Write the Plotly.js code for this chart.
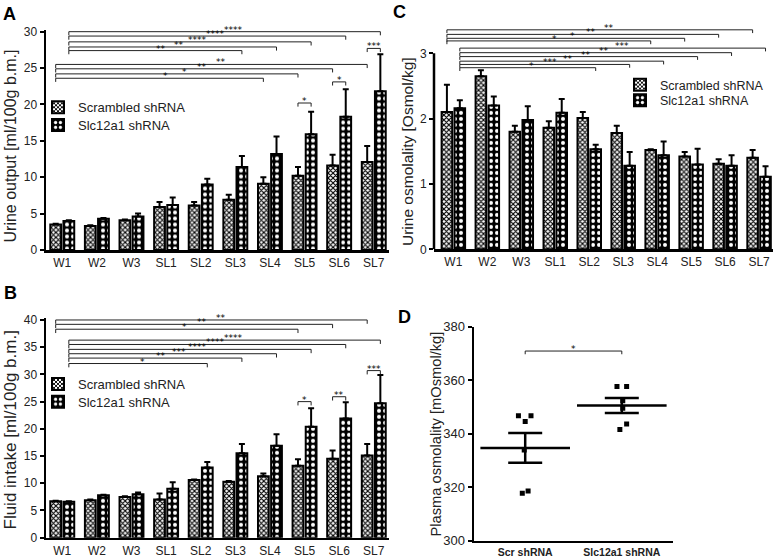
<!DOCTYPE html>
<html><head><meta charset="utf-8">
<script src="https://cdn.plot.ly/plotly-3.0.1.min.js"></script>
<style>html,body{margin:0;padding:0;background:#fff}#chart{width:777px;height:559px}</style>
</head><body><div id="chart"></div>
<script>
// ---------- data ----------
const categories = ['W1','W2','W3','SL1','SL2','SL3','SL4','SL5','SL6','SL7'];
const seriesNames = ['Scrambled shRNA','Slc12a1 shRNA'];

// A: urine output [ml/100g b.m.]
const urineScr    = [3.5,3.3,4.1,5.9,6.1,6.9,9.1,10.2,11.6,12.1];
const urineScrErr = [0.1,0.1,0.1,0.7,0.5,0.7,0.9,1.2,1.5,2.2];
const urineSlc    = [4.0,4.3,4.6,6.2,9.0,11.4,13.2,15.9,18.3,21.8];
const urineSlcErr = [0.1,0.1,0.4,1.0,0.8,1.5,2.4,3.1,3.8,5.1];
const urineTicks  = [0,5,10,15,20,25,30];

// B: fluid intake [ml/100g b.m.]
const fluidScr    = [6.7,6.9,7.5,7.0,10.6,10.3,11.3,13.2,14.5,15.1];
const fluidScrErr = [0.1,0.1,0.1,1.1,0.1,0.1,0.5,1.2,1.5,2.1];
const fluidSlc    = [6.6,7.8,8.0,9.0,12.9,15.5,16.9,20.4,21.9,24.7];
const fluidSlcErr = [0.1,0.1,0.3,1.2,1.0,1.7,2.1,3.4,3.0,5.2];
const fluidTicks  = [0,5,10,15,20,25,30,35,40];

// C: urine osmolality [Osmol/kg]
const osmoScr    = [2.10,2.65,1.80,1.86,2.01,1.78,1.52,1.42,1.31,1.40];
const osmoScrErr = [0.42,0.09,0.09,0.10,0.09,0.11,0.01,0.07,0.07,0.12];
const osmoSlc    = [2.16,2.20,1.98,2.09,1.53,1.28,1.44,1.30,1.28,1.11];
const osmoSlcErr = [0.12,0.14,0.21,0.21,0.07,0.21,0.21,0.24,0.16,0.16];
const osmoTicks  = [0,1,2,3];

// D: plasma osmolality [mOsmol/kg]
const groups      = ['Scr shRNA','Slc12a1 shRNA'];
const plasmaScr   = [346.7,346.7,344.6,333.9,317.7,318.6];
const plasmaScrJitter = [-0.07,0.06,0.0,-0.01,-0.03,0.03];
const plasmaSlc   = [357.6,357.6,352.3,349.5,343.6,341.6];
const plasmaSlcJitter = [-0.05,0.05,0.01,0.01,0.05,-0.02];
const plasmaMean  = [334.7,350.5];
const plasmaSem   = [5.6,2.8];
const plasmaTicks = [300,320,340,360,380];

// significance brackets: [fromCategory, fromSeries, toCategory, toSeries, level, label]
const bracketsA = [
  ['W1',1,'SL7',1,30.0,'****'],['W1',1,'SL6',1,29.4,'****'],['W1',1,'SL5',1,28.6,'****'],
  ['W1',1,'SL4',1,27.9,'**'],['W1',1,'SL3',1,27.4,'**'],
  ['W1',0,'SL7',0,25.5,'**'],['W1',0,'SL6',0,24.9,'**'],['W1',0,'SL5',0,24.2,'*'],['W1',0,'SL4',0,23.6,'*'],
  ['SL5',0,'SL5',1,20.2,'*'],['SL6',0,'SL6',1,23.1,'*'],['SL7',0,'SL7',1,27.7,'***']
];
const bracketsB = [
  ['W1',0,'SL7',0,40.0,'**'],['W1',0,'SL6',0,39.2,'**'],['W1',0,'SL5',0,38.3,'*'],
  ['W1',1,'SL7',1,36.3,'****'],['W1',1,'SL6',1,35.5,'****'],['W1',1,'SL5',1,34.6,'****'],
  ['W1',1,'SL4',1,33.8,'***'],['W1',1,'SL3',1,33.0,'**'],['W1',1,'SL2',1,32.0,'*'],
  ['SL5',0,'SL5',1,25.0,'*'],['SL6',0,'SL6',1,25.9,'**'],['SL7',0,'SL7',1,30.7,'***']
];
const bracketsC = [
  ['W1',0,'SL7',0,3.36,'**'],['W1',0,'SL6',0,3.29,'**'],['W1',0,'SL5',0,3.23,'*'],['W1',0,'SL4',0,3.19,'*'],
  ['W1',1,'SL7',1,3.08,'***'],['W1',1,'SL6',1,3.01,'**'],['W1',1,'SL5',1,2.95,'**'],
  ['W1',1,'SL4',1,2.88,'**'],['W1',1,'SL3',1,2.83,'***'],['W1',1,'SL2',1,2.78,'*']
];
const bracketsD = [['Scr shRNA','Slc12a1 shRNA',370.9,'*']];

// ---------- styling / layout helpers ----------
const FONT = 'Liberation Sans, Arial, Helvetica, sans-serif';
const W = 777, H = 559;
const px = v => v / W;
const py = v => 1 - v / H;
const barOffset = 0.19;

const patScr = {shape:'x', fgcolor:'#000', bgcolor:'#fff', size:3.5, solidity:0.55, fillmode:'replace'};
const patSlc = {shape:'.', fgcolor:'#fff', bgcolor:'#000', size:6, solidity:0.35, fillmode:'replace'};

function barTrace(y, err, idx, xa, ya, legendId) {
  return {
    type:'bar', x:categories, y:y, name:seriesNames[idx], xaxis:xa, yaxis:ya,
    legend:legendId,
    marker:{color: idx===0?'#fff':'#000', line:{color:'#000', width:2}, pattern: idx===0?patScr:patSlc},
    error_y:{type:'data', array:err, arrayminus:err.map(() => 0), symmetric:false,
             color:'#000', thickness:2, width:3},
    hoverinfo:'skip'
  };
}

const traces = [
  barTrace(urineScr, urineScrErr, 0, 'x', 'y', 'legend'),
  barTrace(urineSlc, urineSlcErr, 1, 'x', 'y', 'legend2'),
  barTrace(fluidScr, fluidScrErr, 0, 'x2', 'y2', 'legend3'),
  barTrace(fluidSlc, fluidSlcErr, 1, 'x2', 'y2', 'legend4'),
  barTrace(osmoScr, osmoScrErr, 0, 'x3', 'y3', 'legend5'),
  barTrace(osmoSlc, osmoSlcErr, 1, 'x3', 'y3', 'legend6'),
  {type:'scatter', mode:'markers', xaxis:'x4', yaxis:'y4', showlegend:false,
   x: plasmaScr.map((v,i) => 0 + plasmaScrJitter[i]), y: plasmaScr,
   marker:{symbol:'square', size:5, color:'#000'}, hoverinfo:'skip'},
  {type:'scatter', mode:'markers', xaxis:'x4', yaxis:'y4', showlegend:false,
   x: plasmaSlc.map((v,i) => 1 + plasmaSlcJitter[i]), y: plasmaSlc,
   marker:{symbol:'square', size:5, color:'#000'}, hoverinfo:'skip'},
  {type:'scatter', mode:'markers', xaxis:'x4', yaxis:'y4', showlegend:false,
   x: groups.map((g,i) => i), y: plasmaMean,
   marker:{symbol:'line-ew', size:64, color:'#000', line:{color:'#000', width:2.5}},
   error_y:{type:'data', array:plasmaSem, color:'#000', thickness:2.5, width:17},
   hoverinfo:'skip'}
];

const shapes = [], annotations = [];
const lineStyle = {color:'#222', width:1};
function addBracket(xa, ya, x0, x1, y, drop, label, frac) {
  shapes.push({type:'line', xref:xa, yref:ya, x0:x0, x1:x1, y0:y, y1:y, line:lineStyle});
  shapes.push({type:'line', xref:xa, yref:ya, x0:x0, x1:x0, y0:y, y1:y-drop, line:lineStyle});
  shapes.push({type:'line', xref:xa, yref:ya, x0:x1, x1:x1, y0:y, y1:y-drop, line:lineStyle});
  annotations.push({xref:xa, yref:ya, x:x0 + frac*(x1-x0), y:y, text:label, showarrow:false,
    xanchor:'center', yanchor:'bottom', yshift:-5,
    font:{family:'DejaVu Sans, ' + FONT, size:9, color:'#000'}});
}
function barX(cat, s) { return categories.indexOf(cat) + (s===0 ? -barOffset : barOffset); }
function addBarBrackets(list, xa, ya, drop) {
  list.forEach(b => {
    const same = b[0] === b[2];
    addBracket(xa, ya, barX(b[0],b[1]), barX(b[2],b[3]), b[4], drop, b[5], same ? 0.5 : 0.53);
  });
}
addBarBrackets(bracketsA, 'x', 'y', 0.5);
addBarBrackets(bracketsB, 'x2', 'y2', 0.7);
addBarBrackets(bracketsC, 'x3', 'y3', 0.05);
bracketsD.forEach(b => addBracket('x4','y4', groups.indexOf(b[0]), groups.indexOf(b[1]), b[2], 1.2, b[3], 0.5));

// custom C y-axis line (ends at top tick, brackets sit above it)
shapes.push({type:'line', xref:'x3 domain', yref:'y3', x0:0, x1:0, y0:osmoTicks[0], y1:osmoTicks[osmoTicks.length-1],
  line:{color:'#000', width:2.5}});

// axis titles and panel letters
function vtitle(text, x, y, size) {
  annotations.push({xref:'paper', yref:'paper', x:px(x), y:py(y), text:text, textangle:-90,
    showarrow:false, xanchor:'center', yanchor:'middle', font:{family:FONT, size:size, color:'#222'}});
}
vtitle('Urine output [ml/100g b.m.]', 10.5, 146, 16);
vtitle('Fluid intake [ml/100g b.m.]', 10, 430.5, 17);
vtitle('Urine osmolality [Osmol/kg]', 407, 152, 15.5);
vtitle('Plasma osmolality [mOsmol/kg]', 435.5, 434, 14.7);
function letter(t, x, y) {
  annotations.push({xref:'paper', yref:'paper', x:px(x), y:py(y), text:'<b>'+t+'</b>', showarrow:false,
    xanchor:'center', yanchor:'middle', font:{family:FONT, size:18, color:'#000'}});
}
letter('A', 9.5, 14); letter('B', 10, 292.5); letter('C', 399, 12); letter('D', 405, 317);

const axisBase = {showline:true, linecolor:'#000', linewidth:2.5, showgrid:false, zeroline:false,
  ticks:'outside', ticklen:4, tickwidth:2, tickcolor:'#000', fixedrange:true,
  tickfont:{family:FONT, size:12, color:'#222'}};
const xBase = Object.assign({}, axisBase, {ticks:'', type:'category'});

function legendAt(x, y, size) {
  return {x:px(x), y:py(y), xanchor:'left', yanchor:'middle', bgcolor:'rgba(0,0,0,0)',
    font:{family:FONT, size:size, color:'#222'}, itemwidth:30, itemclick:false, itemdoubleclick:false};
}

const layout = {
  width:W, height:H, margin:{l:0,r:0,t:0,b:0}, paper_bgcolor:'#fff', plot_bgcolor:'rgba(0,0,0,0)',
  barmode:'group', bargap:0.24, bargroupgap:0.18, showlegend:true,
  font:{family:FONT, color:'#222'},
  xaxis:  Object.assign({}, xBase, {domain:[px(46),px(389)], range:[-0.47,9.44], anchor:'y'}),
  yaxis:  Object.assign({}, axisBase, {domain:[py(250),py(29.5)], range:[0,30.3], tickvals:urineTicks, anchor:'x'}),
  xaxis2: Object.assign({}, xBase, {domain:[px(46),px(389)], range:[-0.47,9.44], anchor:'y2'}),
  yaxis2: Object.assign({}, axisBase, {domain:[py(537.7),py(317.8)], range:[0,40.4], tickvals:fluidTicks, anchor:'x2'}),
  xaxis3: Object.assign({}, xBase, {domain:[px(434),px(773)], range:[-0.57,9.41], anchor:'y3'}),
  yaxis3: Object.assign({}, axisBase, {domain:[py(249.3),py(25.9)], range:[0,3.42], tickvals:osmoTicks, showline:false, anchor:'x3'}),
  xaxis4: Object.assign({}, axisBase, {type:'linear', ticks:'', domain:[px(474),px(673)], range:[-0.53,1.53],
           tickvals:groups.map((g,i)=>i), ticktext:groups, anchor:'y4',
           tickfont:{family:FONT, size:10.5, color:'#222', weight:'bold'}}),
  yaxis4: Object.assign({}, axisBase, {domain:[py(540.7),py(326.7)], range:[300,380], tickvals:plasmaTicks, anchor:'x4',
           tickfont:{family:FONT, size:13, color:'#222'}}),
  legend:  legendAt(38, 107.3, 13),
  legend2: legendAt(38, 125, 13),
  legend3: legendAt(38, 384, 13),
  legend4: legendAt(38, 401.7, 13),
  legend5: legendAt(620, 85, 12.5),
  legend6: legendAt(620, 100.5, 12.5),
  shapes: shapes,
  annotations: annotations
};

Plotly.newPlot('chart', traces, layout, {displayModeBar:false, staticPlot:true});
</script>
</body></html>
